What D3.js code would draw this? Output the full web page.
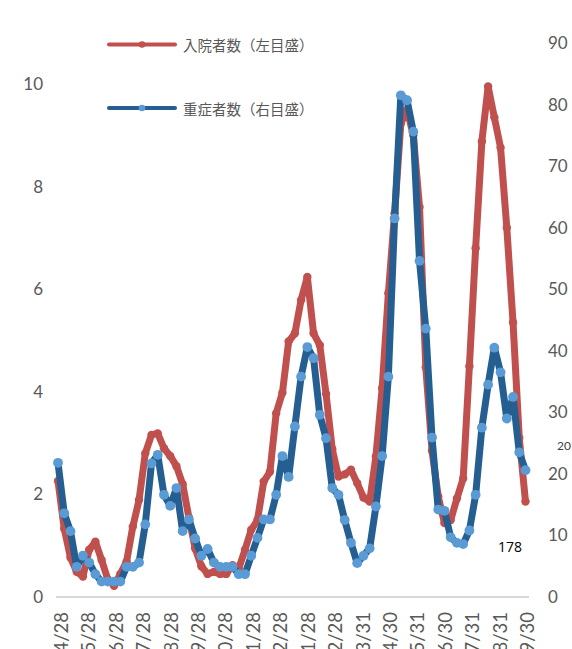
<!DOCTYPE html>
<html>
<head>
<meta charset="utf-8">
<script src="https://cdn.jsdelivr.net/npm/d3@7"></script>
<style>
  html, body { margin: 0; padding: 0; background: #ffffff; }
  svg { display: block; }
</style>
</head>
<body>
<div id="chart"></div>
<script>
// ---- data ----
const xLabels = ["4/28","5/28","6/28","7/28","8/28","9/28","10/28","11/28","12/28","1/28","2/28","3/31","4/30","5/31","6/30","7/31","8/31","9/30"];

const seriesNames = ["入院者数（左目盛）", "重症者数（右目盛）"];

// 入院者数 (left axis), weekly
const hospitalized = [
  2.26, 1.33, 0.77, 0.49, 0.40, 0.92, 1.08, 0.72, 0.34, 0.22,
  0.45, 0.69, 1.37, 1.89, 2.80, 3.16, 3.19, 2.90, 2.75, 2.55,
  2.20, 1.55, 0.95, 0.60, 0.45, 0.49, 0.45, 0.45, 0.62, 0.56,
  0.92, 1.31, 1.50, 2.25, 2.44, 3.58, 3.98, 4.98, 5.14, 5.79,
  6.24, 5.14, 4.91, 3.96, 2.88, 2.35, 2.39, 2.48, 2.22, 1.94,
  1.86, 2.74, 4.07, 5.92, 7.48, 9.23, 9.50, 9.00, 7.60, 4.48,
  2.85, 1.96, 1.44, 1.50, 1.92, 2.31, 4.50, 6.80, 8.88, 9.95,
  9.35, 8.76, 7.20, 5.35, 3.10, 1.86
];

// 重症者数 (right axis), weekly
const severe = [
  21.8, 13.6, 10.7, 4.9, 6.7, 5.6, 3.7, 2.5, 2.5, 2.5,
  2.5, 4.9, 4.9, 5.6, 11.8, 21.7, 23.1, 16.6, 14.8, 17.7,
  10.7, 12.6, 9.5, 6.7, 7.8, 5.6, 4.9, 4.9, 4.9, 3.7,
  3.7, 6.7, 9.6, 12.6, 12.6, 16.6, 22.9, 19.5, 27.7, 35.8,
  40.6, 38.8, 29.6, 25.8, 17.7, 16.6, 12.5, 8.8, 5.5, 6.7,
  7.9, 14.7, 22.9, 35.8, 61.5, 81.5, 80.7, 75.6, 54.6, 43.6,
  25.9, 14.2, 14.0, 9.7, 8.8, 8.6, 10.8, 16.6, 27.5, 34.5,
  40.5, 36.5, 29.0, 32.5, 23.5, 20.6
];

const leftTicks = [0, 2, 4, 6, 8, 10];
const rightTicks = [0, 10, 20, 30, 40, 50, 60, 70, 80, 90];

// stray data labels seen on the chart (text, right-axis value)
const strayTexts = ["178", "20"];
const strayValues = [8.2, 24.6];

// ---- layout ----
const W = 572, H = 649;
const svg = d3.select("#chart").append("svg").attr("width", W).attr("height", H);

const yL = d3.scaleLinear().domain([0, 10]).range([597, 84]);
const yR = d3.scaleLinear().domain([0, 90]).range([597, 43]);
const x = d3.scaleLinear().domain([0, hospitalized.length - 1]).range([58, 525.5]);
const xLab = d3.scalePoint().domain(xLabels).range([61, 527]);

const RED = "#C0504D", BLUE = "#255E91", LBLUE = "#5B9BD5";
const FONT = "Lato, 'Open Sans', 'Noto Sans', sans-serif";

// baseline
svg.append("line")
  .attr("x1", 56).attr("x2", 529)
  .attr("y1", yL(0)).attr("y2", yL(0))
  .attr("stroke", "#D9D9D9").attr("stroke-width", 2);

// left axis
const gL = svg.append("g").attr("transform", "translate(56,0)")
  .call(d3.axisLeft(yL).tickValues(leftTicks).tickSize(0).tickPadding(13).tickFormat(d3.format("d")));
gL.select(".domain").remove();
gL.selectAll("text").attr("font-family", FONT).attr("font-size", 17).attr("fill", "#595959");

// right axis
const gR = svg.append("g").attr("transform", "translate(530,0)")
  .call(d3.axisRight(yR).tickValues(rightTicks).tickSize(0).tickPadding(18).tickFormat(d3.format("d")));
gR.select(".domain").remove();
gR.selectAll("text").attr("font-family", FONT).attr("font-size", 17).attr("fill", "#595959");

// bottom labels (rotated, running off the bottom edge as in the reference)
svg.append("g").selectAll("text").data(xLabels).join("text")
  .attr("transform", d => `translate(${xLab(d)},612) rotate(-90)`)
  .attr("text-anchor", "end")
  .attr("dominant-baseline", "central")
  .attr("font-family", FONT).attr("font-size", 18.5).attr("fill", "#595959")
  .text(d => d);

// lines
const lineL = d3.line().x((d, i) => x(i)).y(d => yL(d));
const lineR = d3.line().x((d, i) => x(i)).y(d => yR(d));

svg.append("path").datum(hospitalized)
  .attr("d", lineL).attr("fill", "none").attr("stroke", RED)
  .attr("stroke-width", 7).attr("stroke-linejoin", "round").attr("stroke-linecap", "round");
svg.append("g").selectAll("circle").data(hospitalized).join("circle")
  .attr("cx", (d, i) => x(i)).attr("cy", d => yL(d)).attr("r", 4.2).attr("fill", RED);

svg.append("path").datum(severe)
  .attr("d", lineR).attr("fill", "none").attr("stroke", BLUE)
  .attr("stroke-width", 7).attr("stroke-linejoin", "round").attr("stroke-linecap", "round");
svg.append("g").selectAll("circle").data(severe).join("circle")
  .attr("cx", (d, i) => x(i)).attr("cy", d => yR(d)).attr("r", 4.9).attr("fill", LBLUE);

// stray labels
svg.append("text").attr("x", 498).attr("y", yR(strayValues[0])).attr("dominant-baseline", "central")
  .attr("font-family", "'Open Sans', Lato, sans-serif").attr("font-size", 14).attr("fill", "#000")
  .text(strayTexts[0]);
svg.append("text").attr("x", 557).attr("y", yR(strayValues[1])).attr("dominant-baseline", "central")
  .attr("font-family", FONT).attr("font-size", 12).attr("fill", "#404040")
  .text(strayTexts[1]);

// legend
const legend = [
  { name: seriesNames[0], line: RED, dot: RED, y: 44.5 },
  { name: seriesNames[1], line: BLUE, dot: LBLUE, y: 108 }
];
const lg = svg.append("g").selectAll("g").data(legend).join("g");
lg.append("line").attr("x1", 109).attr("x2", 175).attr("y1", d => d.y).attr("y2", d => d.y)
  .attr("stroke", d => d.line).attr("stroke-width", 4).attr("stroke-linecap", "round");
lg.append("circle").attr("cx", 142).attr("cy", d => d.y).attr("r", 3.3).attr("fill", d => d.dot);
lg.append("text").attr("x", 183).attr("y", d => d.y).attr("dominant-baseline", "central")
  .attr("font-family", "'Noto Sans CJK JP', sans-serif").attr("font-size", 14.5)
  .attr("fill", "#595959").text(d => d.name);
</script>
</body>
</html>
